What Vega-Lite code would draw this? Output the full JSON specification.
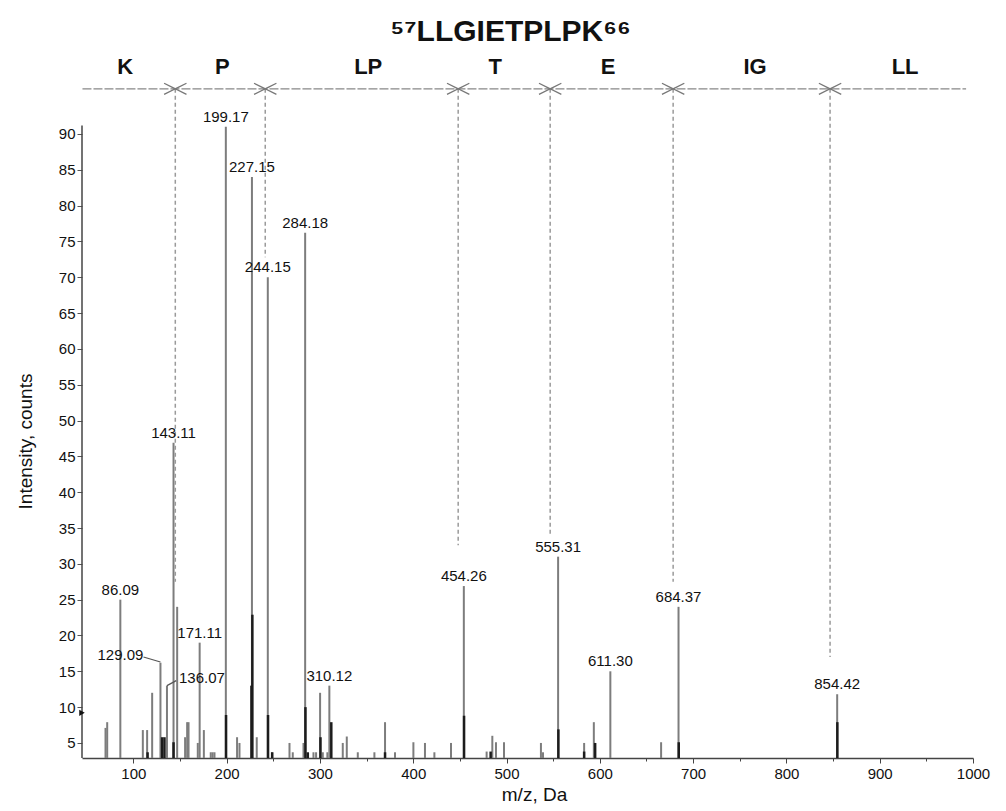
{
  "$schema": "https://vega.github.io/schema/vega-lite/v6.json",
  "width": 891,
  "height": 710,
  "autosize": {"type": "none"},
  "padding": {"left": 82, "top": 48, "right": 33, "bottom": 53},
  "background": "white",
  "config": {"view": {"stroke": null}, "font": "Liberation Sans"},
  "title": {"text": "⁵⁷LLGIETPLPK⁶⁶", "fontSize": 30, "fontWeight": "bold", "color": "#111", "anchor": "middle", "frame": "group", "dx": -17, "dy": 31, "offset": 8, "baseline": "alphabetic"},
  "datasets": {
    "peaks": [
      {"mz": 70.2, "i": 7.1, "s": "g"}, {"mz": 72.0, "i": 7.9, "s": "g"}, {"mz": 86.09, "i": 25.0, "s": "g"},
      {"mz": 110.2, "i": 6.8, "s": "g"}, {"mz": 114.8, "i": 6.8, "s": "g"}, {"mz": 120.2, "i": 12.0, "s": "g"},
      {"mz": 129.09, "i": 16.2, "s": "g"}, {"mz": 136.07, "i": 13.0, "s": "g"}, {"mz": 143.11, "i": 46.9, "s": "g"},
      {"mz": 147.0, "i": 24.0, "s": "g"}, {"mz": 155.5, "i": 5.8, "s": "g"}, {"mz": 157.7, "i": 7.9, "s": "g"},
      {"mz": 159.2, "i": 7.9, "s": "g"}, {"mz": 169.1, "i": 5.0, "s": "g"}, {"mz": 171.11, "i": 19.0, "s": "g"},
      {"mz": 175.6, "i": 6.8, "s": "g"}, {"mz": 183.0, "i": 3.7, "s": "g"}, {"mz": 185.0, "i": 3.7, "s": "g"},
      {"mz": 187.0, "i": 3.7, "s": "g"}, {"mz": 199.17, "i": 91.0, "s": "g"}, {"mz": 211.2, "i": 5.8, "s": "g"},
      {"mz": 213.8, "i": 5.0, "s": "g"}, {"mz": 227.15, "i": 84.0, "s": "g"}, {"mz": 232.3, "i": 5.8, "s": "g"},
      {"mz": 244.15, "i": 70.0, "s": "g"}, {"mz": 248.5, "i": 3.7, "s": "g"}, {"mz": 267.4, "i": 5.0, "s": "g"},
      {"mz": 270.9, "i": 3.7, "s": "g"}, {"mz": 282.4, "i": 5.0, "s": "g"}, {"mz": 284.18, "i": 76.2, "s": "g"},
      {"mz": 293.1, "i": 3.7, "s": "g"}, {"mz": 295.9, "i": 3.7, "s": "g"}, {"mz": 300.2, "i": 12.0, "s": "g"},
      {"mz": 303.1, "i": 3.7, "s": "g"}, {"mz": 308.0, "i": 3.7, "s": "g"}, {"mz": 310.12, "i": 13.0, "s": "g"},
      {"mz": 324.5, "i": 5.0, "s": "g"}, {"mz": 328.8, "i": 5.9, "s": "g"}, {"mz": 340.6, "i": 3.7, "s": "g"},
      {"mz": 358.4, "i": 3.7, "s": "g"}, {"mz": 369.8, "i": 7.9, "s": "g"}, {"mz": 380.5, "i": 3.7, "s": "g"},
      {"mz": 400.2, "i": 5.1, "s": "g"}, {"mz": 412.6, "i": 5.0, "s": "g"}, {"mz": 422.7, "i": 3.7, "s": "g"},
      {"mz": 440.5, "i": 5.0, "s": "g"}, {"mz": 454.26, "i": 26.9, "s": "g"}, {"mz": 478.7, "i": 3.8, "s": "g"},
      {"mz": 484.8, "i": 6.0, "s": "g"}, {"mz": 488.7, "i": 5.1, "s": "g"}, {"mz": 497.3, "i": 5.1, "s": "g"},
      {"mz": 536.9, "i": 5.0, "s": "g"}, {"mz": 539.1, "i": 3.7, "s": "g"}, {"mz": 555.31, "i": 31.0, "s": "g"},
      {"mz": 583.2, "i": 5.0, "s": "g"}, {"mz": 593.6, "i": 7.9, "s": "g"}, {"mz": 611.30, "i": 15.0, "s": "g"},
      {"mz": 665.7, "i": 5.1, "s": "g"}, {"mz": 684.37, "i": 24.0, "s": "g"}, {"mz": 854.42, "i": 11.8, "s": "g"},
      {"mz": 115.3, "i": 3.7, "s": "k"}, {"mz": 130.9, "i": 5.8, "s": "k"}, {"mz": 133.4, "i": 5.8, "s": "k"},
      {"mz": 143.11, "i": 5.1, "s": "k"}, {"mz": 199.4, "i": 8.9, "s": "k"}, {"mz": 226.6, "i": 13.0, "s": "k"},
      {"mz": 227.6, "i": 22.9, "s": "k"}, {"mz": 244.4, "i": 8.9, "s": "k"}, {"mz": 248.9, "i": 3.7, "s": "k"},
      {"mz": 284.5, "i": 10.0, "s": "k"}, {"mz": 287.0, "i": 3.7, "s": "k"}, {"mz": 300.6, "i": 5.8, "s": "k"},
      {"mz": 312.2, "i": 7.9, "s": "k"}, {"mz": 369.8, "i": 3.7, "s": "k"}, {"mz": 454.5, "i": 8.8, "s": "k"},
      {"mz": 483.0, "i": 3.8, "s": "k"}, {"mz": 555.6, "i": 6.9, "s": "k"}, {"mz": 583.2, "i": 3.8, "s": "k"},
      {"mz": 595.0, "i": 5.0, "s": "k"}, {"mz": 684.6, "i": 5.1, "s": "k"}, {"mz": 854.6, "i": 7.9, "s": "k"}
    ],
    "labels": [
      {"mz": 86.09, "i": 25.0, "lab": "86.09", "pos": "top"},
      {"mz": 129.09, "i": 16.2, "lab": "129.09", "pos": "left"},
      {"mz": 136.07, "i": 13.0, "lab": "136.07", "pos": "right"},
      {"mz": 143.11, "i": 46.9, "lab": "143.11", "pos": "top"},
      {"mz": 171.11, "i": 19.0, "lab": "171.11", "pos": "top"},
      {"mz": 199.17, "i": 91.0, "lab": "199.17", "pos": "top"},
      {"mz": 227.15, "i": 84.0, "lab": "227.15", "pos": "top"},
      {"mz": 244.15, "i": 70.0, "lab": "244.15", "pos": "top"},
      {"mz": 284.18, "i": 76.2, "lab": "284.18", "pos": "top"},
      {"mz": 310.12, "i": 13.0, "lab": "310.12", "pos": "top"},
      {"mz": 454.26, "i": 26.9, "lab": "454.26", "pos": "top"},
      {"mz": 555.31, "i": 31.0, "lab": "555.31", "pos": "top"},
      {"mz": 611.30, "i": 15.0, "lab": "611.30", "pos": "top"},
      {"mz": 684.37, "i": 24.0, "lab": "684.37", "pos": "top"},
      {"mz": 854.42, "i": 11.8, "lab": "854.42", "pos": "top"}
    ],
    "cuts": [
      {"mz": 145.0, "i": 96.3, "bottom": 27.5},
      {"mz": 241.4, "i": 96.3, "bottom": 72.8},
      {"mz": 448.2, "i": 96.3, "bottom": 32.6},
      {"mz": 546.8, "i": 96.3, "bottom": 34.0},
      {"mz": 678.6, "i": 96.3, "bottom": 27.5},
      {"mz": 846.8, "i": 96.3, "bottom": 17.0}
    ],
    "segments": [
      {"seg": "K", "mz": 91.4, "i": 99.4}, {"seg": "P", "mz": 195.4, "i": 99.4}, {"seg": "LP", "mz": 351.8, "i": 99.4},
      {"seg": "T", "mz": 487.9, "i": 99.4}, {"seg": "E", "mz": 609.0, "i": 99.4}, {"seg": "IG", "mz": 766.4, "i": 99.4}, {"seg": "LL", "mz": 927.2, "i": 99.4}
    ],
    "arrowline": [{"mz": 45.5, "mz2": 992.6, "i": 96.3}],
    "leaders": [
      {"mz": 110.9, "i": 17.0, "mz2": 129.09, "i2": 16.3},
      {"mz": 136.07, "i": 13.0, "mz2": 146.0, "i2": 13.7}
    ],
    "yaxisline": [{"mz": 45, "i": 2.9, "i2": 91.2}],
    "marker": [{"mz": 45, "i": 9.2}]
  },
  "layer": [
    {
      "data": {"name": "peaks"},
      "transform": [{"filter": "datum.s === 'g'"}],
      "mark": {"type": "rule", "color": "#7d7d7d", "strokeWidth": 2},
      "encoding": {
        "x": {"field": "mz", "type": "quantitative",
          "scale": {"domain": [45, 1000], "nice": false, "zero": false},
          "axis": {"title": "m/z, Da", "values": [100,150,200,250,300,350,400,450,500,550,600,650,700,750,800,850,900,950,1000],
            "labelExpr": "datum.value % 100 === 0 ? datum.label : ''", "format": "d",
            "tickSize": {"condition": {"test": "datum.value % 100 === 0", "value": 5}, "value": 3},
            "grid": false, "domainColor": "#444", "domainWidth": 1.5, "tickColor": "#444",
            "labelFontSize": 15, "labelColor": "#111", "labelPadding": 3, "labelFlush": false, "labelOverlap": false,
            "titleFontSize": 19, "titleFontWeight": "normal", "titleColor": "#111",
            "titleX": 452, "titleY": 42, "titleBaseline": "alphabetic", "titleAlign": "center"}},
        "y": {"field": "i", "type": "quantitative",
          "scale": {"domain": [2.9, 102], "nice": false, "zero": false},
          "axis": {"title": "Intensity, counts", "values": [5,10,15,20,25,30,35,40,45,50,55,60,65,70,75,80,85,90],
            "domain": false, "grid": false, "tickSize": 5, "tickColor": "#555",
            "labelFontSize": 15, "labelColor": "#111", "labelPadding": 2,
            "titleFontSize": 19, "titleFontWeight": "normal", "titleColor": "#111",
            "titleX": -57, "titleY": 393, "titleAlign": "center", "titleBaseline": "middle"}},
        "y2": {"datum": 2.9}
      }
    },
    {
      "data": {"name": "peaks"},
      "transform": [{"filter": "datum.s === 'k'"}],
      "mark": {"type": "rule", "color": "#1c1c1c", "strokeWidth": 2.5},
      "encoding": {
        "x": {"field": "mz", "type": "quantitative"},
        "y": {"field": "i", "type": "quantitative"},
        "y2": {"datum": 2.9}
      }
    },
    {
      "data": {"name": "cuts"},
      "mark": {"type": "rule", "color": "#9a9a9a", "strokeWidth": 1.5, "strokeDash": [4, 3]},
      "encoding": {
        "x": {"field": "mz", "type": "quantitative"},
        "y": {"field": "i", "type": "quantitative"},
        "y2": {"field": "bottom"}
      }
    },
    {
      "data": {"name": "arrowline"},
      "mark": {"type": "rule", "color": "#888", "strokeWidth": 1.3, "strokeDash": [9, 2]},
      "encoding": {
        "x": {"field": "mz", "type": "quantitative"},
        "x2": {"field": "mz2"},
        "y": {"field": "i", "type": "quantitative"}
      }
    },
    {
      "data": {"name": "cuts"},
      "mark": {"type": "point", "shape": "M -1 -0.5 L 0 0 L -1 0.5", "filled": false, "stroke": "#777", "strokeWidth": 1.3, "size": 500, "opacity": 1},
      "encoding": {
        "x": {"field": "mz", "type": "quantitative"},
        "y": {"field": "i", "type": "quantitative"}
      }
    },
    {
      "data": {"name": "cuts"},
      "mark": {"type": "point", "shape": "M 1 -0.5 L 0 0 L 1 0.5", "filled": false, "stroke": "#777", "strokeWidth": 1.3, "size": 500, "opacity": 1},
      "encoding": {
        "x": {"field": "mz", "type": "quantitative"},
        "y": {"field": "i", "type": "quantitative"}
      }
    },
    {
      "data": {"name": "segments"},
      "mark": {"type": "text", "fontSize": 22, "fontWeight": "bold", "color": "#111", "baseline": "middle", "align": "center"},
      "encoding": {
        "x": {"field": "mz", "type": "quantitative"},
        "y": {"field": "i", "type": "quantitative"},
        "text": {"field": "seg"}
      }
    },
    {
      "data": {"name": "labels"},
      "transform": [{"filter": "datum.pos === 'top'"}],
      "mark": {"type": "text", "fontSize": 15, "color": "#111", "baseline": "middle", "align": "center", "dy": -10},
      "encoding": {
        "x": {"field": "mz", "type": "quantitative"},
        "y": {"field": "i", "type": "quantitative"},
        "text": {"field": "lab"}
      }
    },
    {
      "data": {"name": "labels"},
      "transform": [{"filter": "datum.pos === 'left'"}],
      "mark": {"type": "text", "fontSize": 15, "color": "#111", "baseline": "middle", "align": "center", "dx": -40, "dy": -8},
      "encoding": {
        "x": {"field": "mz", "type": "quantitative"},
        "y": {"field": "i", "type": "quantitative"},
        "text": {"field": "lab"}
      }
    },
    {
      "data": {"name": "labels"},
      "transform": [{"filter": "datum.pos === 'right'"}],
      "mark": {"type": "text", "fontSize": 15, "color": "#111", "baseline": "middle", "align": "center", "dx": 35, "dy": -8},
      "encoding": {
        "x": {"field": "mz", "type": "quantitative"},
        "y": {"field": "i", "type": "quantitative"},
        "text": {"field": "lab"}
      }
    },
    {
      "data": {"name": "leaders"},
      "mark": {"type": "rule", "color": "#555", "strokeWidth": 1.2},
      "encoding": {
        "x": {"field": "mz", "type": "quantitative"},
        "y": {"field": "i", "type": "quantitative"},
        "x2": {"field": "mz2"},
        "y2": {"field": "i2"}
      }
    },
    {
      "data": {"name": "yaxisline"},
      "mark": {"type": "rule", "color": "#444", "strokeWidth": 1.5},
      "encoding": {
        "x": {"field": "mz", "type": "quantitative"},
        "y": {"field": "i", "type": "quantitative"},
        "y2": {"field": "i2"}
      }
    },
    {
      "data": {"name": "marker"},
      "mark": {"type": "point", "shape": "triangle-right", "filled": true, "color": "#111", "size": 40, "opacity": 1},
      "encoding": {
        "x": {"field": "mz", "type": "quantitative"},
        "y": {"field": "i", "type": "quantitative"}
      }
    }
  ]
}
